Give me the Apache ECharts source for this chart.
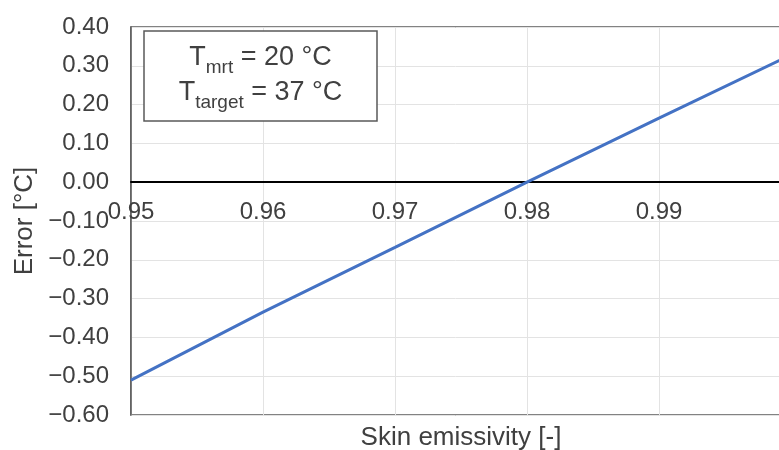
<!DOCTYPE html>
<html><head><meta charset="utf-8">
<script src="https://cdn.jsdelivr.net/npm/echarts@6/dist/echarts.min.js"></script>
<style>html,body{margin:0;padding:0;background:#fff}#c{width:779px;height:450px}</style>
</head><body><div id="c"></div>
<script>
var emissivity = [0.95, 0.96, 0.97, 0.98, 0.99, 1.00];
var errorValues = [-0.51, -0.335, -0.168, 0.0, 0.165, 0.328];
var xAxisName = 'Skin emissivity [-]';
var yAxisName = 'Error [°C]';
var annotLine1 = [['T', 'main'], ['mrt', 'sub'], [' = 20 °C', 'main']];
var annotLine2 = [['T', 'main'], ['target', 'sub'], [' = 37 °C', 'main']];

var FONT = '"Liberation Sans", Arial, sans-serif';
var TXT = '#404040';
var GRID = {left: 131, top: 27, right: -12, bottom: 35};
var Y_MIN = -0.6, Y_MAX = 0.4;
var plotH = 450 - GRID.top - GRID.bottom;
var zeroOffset = -plotH * (0 - Y_MIN) / (Y_MAX - Y_MIN);

var chart = echarts.init(document.getElementById('c'), null, {renderer: 'canvas'});

var cv = document.createElement('canvas').getContext('2d');
function measure(t, s){ cv.font = s + 'px ' + FONT; return cv.measureText(t).width; }
var SIZES = {main: 27, sub: 19};
var SHIFT = {main: 0, sub: 14};
function buildLine(parts, cx, topY){
  var total = 0;
  parts.forEach(function(p){ total += measure(p[0], SIZES[p[1]]); });
  var x = cx - total / 2, els = [];
  parts.forEach(function(p){
    els.push({type: 'text', x: x, y: topY + SHIFT[p[1]], z: 100,
      style: {text: p[0], fontSize: SIZES[p[1]], fontFamily: FONT, fill: TXT,
        textAlign: 'left', align: 'left', textVerticalAlign: 'top', verticalAlign: 'top'}});
    x += measure(p[0], SIZES[p[1]]);
  });
  return els;
}
function fmt(v){ if (Math.abs(v) < 1e-9) return '0.00'; var s = v.toFixed(2); return s.replace('-', '\u2212'); }

var gfx = [{type: 'rect', z: 100, shape: {x: 144, y: 31, width: 233, height: 90}, style: {fill: '#fff', stroke: '#595959', lineWidth: 1.5}}];
gfx = gfx.concat(buildLine(annotLine1, 260.5, 44), buildLine(annotLine2, 260.5, 79));

chart.setOption({
  animation: false,
  textStyle: {fontFamily: FONT},
  grid: {left: GRID.left, top: GRID.top, right: GRID.right, bottom: GRID.bottom, show: true, borderColor: '#595959', borderWidth: 1.5, containLabel: false, outerBoundsMode: 'none'},
  xAxis: [{
    type: 'value', min: 0.95, max: 1.00, interval: 0.01, position: 'bottom', offset: zeroOffset,
    axisLine: {onZero: false, lineStyle: {color: '#000', width: 2}},
    axisTick: {show: false},
    axisLabel: {color: TXT, fontSize: 24, margin: 18, showMaxLabel: false,
      formatter: function(v){ return v > 0.9995 ? '' : v.toFixed(2); }},
    splitLine: {show: true, lineStyle: {color: '#e3e3e3', width: 1}}
  }, {
    type: 'value', min: 0.95, max: 1.00, position: 'bottom',
    axisLine: {show: false, onZero: false}, axisTick: {show: false}, axisLabel: {show: false}, splitLine: {show: false},
    name: xAxisName, nameLocation: 'middle', nameGap: 10,
    nameTextStyle: {color: TXT, fontSize: 26, fontFamily: FONT}
  }],
  yAxis: {
    type: 'value', min: Y_MIN, max: Y_MAX, interval: 0.1,
    axisLine: {show: true, onZero: false, lineStyle: {color: '#595959', width: 1.5}},
    axisTick: {show: false},
    axisLabel: {color: TXT, fontSize: 24, margin: 22, formatter: fmt},
    splitLine: {show: true, lineStyle: {color: '#e3e3e3', width: 1}},
    name: yAxisName, nameLocation: 'middle', nameRotate: 90, nameGap: 88,
    nameTextStyle: {color: TXT, fontSize: 26, fontFamily: FONT}
  },
  series: [{
    type: 'line', xAxisIndex: 0,
    data: emissivity.map(function(x, i){ return [x, errorValues[i]]; }),
    showSymbol: false, symbol: 'none',
    lineStyle: {color: '#4472c4', width: 3},
    z: 5
  }],
  graphic: gfx
});
</script></body></html>
